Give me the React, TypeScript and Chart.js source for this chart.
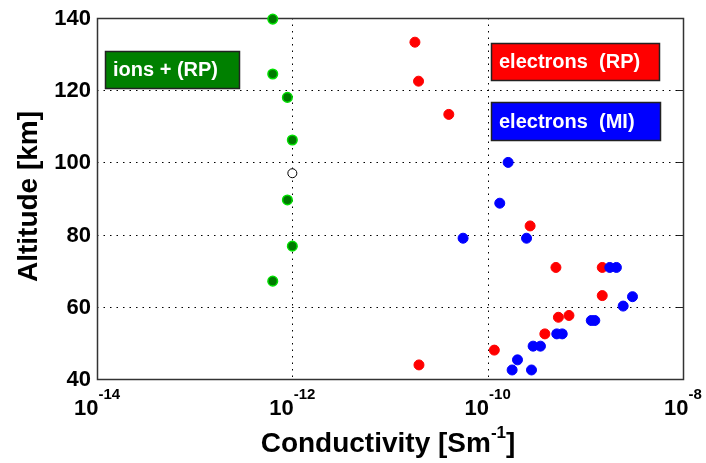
import React, { useEffect, useRef } from "react";
import { Chart, registerables } from "chart.js";

Chart.register(...registerables);

// ---- data ----
const ionsX = [6.3e-13, 6.3e-13, 8.9e-13, 1.0e-12, 8.9e-13, 1.0e-12, 6.3e-13];
const ionsY = [139.7, 124.5, 118.0, 106.2, 89.6, 76.8, 67.1];

const hollowX = [1.0e-12];
const hollowY = [97.0];

const elRPX = [1.8e-11, 1.96e-11, 4.0e-11, 2.72e-10, 5.0e-10, 1.49e-9, 1.49e-9, 5.3e-10, 6.8e-10, 3.85e-10, 1.17e-10, 1.98e-11];
const elRPY = [133.3, 122.5, 113.3, 82.4, 70.9, 70.9, 63.1, 57.1, 57.6, 52.5, 48.0, 43.9];

const elMIX = [1.62e-10, 1.33e-10, 5.6e-11, 2.5e-10, 1.78e-9, 2.08e-9, 3.04e-9, 2.44e-9, 1.15e-9, 1.25e-9, 5.1e-10, 5.8e-10, 2.92e-10, 3.47e-10, 2.02e-10, 1.78e-10, 2.81e-10];
const elMIY = [100.0, 88.7, 79.0, 79.0, 70.9, 70.9, 62.8, 60.2, 56.2, 56.2, 52.5, 52.5, 49.1, 49.1, 45.3, 42.5, 42.5];

const xTickExps = [-14, -12, -10, -8];
const yTicks = [40, 60, 80, 100, 120, 140];

const xTitle = "Conductivity [Sm";
const xTitleSup = "-1";
const yTitle = "Altitude [km]";

const labelIons = "ions + (RP)";
const labelRP = "electrons  (RP)";
const labelMI = "electrons  (MI)";

const FONT = '"Liberation Sans", Arial, Helvetica, sans-serif';

const toPts = (xs: number[], ys: number[]) => xs.map((x, i) => ({ x, y: ys[i] }));

const decorPlugin = {
  id: "decor",
  beforeDatasetsDraw(chart: any) {
    const { ctx, chartArea: a, scales } = chart;
    const xs = scales.x;
    const ys = scales.y;
    ctx.save();
    // dotted grid
    ctx.strokeStyle = "#000";
    ctx.lineWidth = 1;
    ctx.setLineDash([1.5, 5]);
    xTickExps.forEach((e) => {
      const v = Math.pow(10, e);
      const px = Math.round(xs.getPixelForValue(v)) + 0.5;
      if (px <= a.left + 2 || px >= a.right - 2) return;
      ctx.beginPath();
      ctx.moveTo(px, a.top);
      ctx.lineTo(px, a.bottom);
      ctx.stroke();
    });
    yTicks.forEach((v) => {
      const py = Math.round(ys.getPixelForValue(v)) + 0.5;
      if (py <= a.top + 2 || py >= a.bottom - 2) return;
      ctx.beginPath();
      ctx.moveTo(a.left, py);
      ctx.lineTo(a.right, py);
      ctx.stroke();
    });
    ctx.setLineDash([]);
    // right tick marks
    ctx.strokeStyle = "#222";
    yTicks.forEach((v) => {
      const py = Math.round(ys.getPixelForValue(v)) + 0.5;
      ctx.beginPath();
      ctx.moveTo(a.right - 6, py);
      ctx.lineTo(a.right, py);
      ctx.stroke();
    });
    // frame
    ctx.strokeStyle = "#333";
    ctx.lineWidth = 1.5;
    ctx.strokeRect(Math.round(a.left) + 0.5, Math.round(a.top) + 0.5, Math.round(a.right - a.left), Math.round(a.bottom - a.top));

    // y tick labels
    ctx.fillStyle = "#000";
    ctx.font = `bold 22px ${FONT}`;
    ctx.textAlign = "right";
    ctx.textBaseline = "middle";
    yTicks.forEach((v) => {
      const py = ys.getPixelForValue(v);
      ctx.fillText(String(v), a.left - 6, py + 1);
    });
    // x tick labels with superscript
    xTickExps.forEach((e) => {
      const px = xs.getPixelForValue(Math.pow(10, e));
      ctx.font = `bold 22px ${FONT}`;
      const base = "10";
      const wb = ctx.measureText(base).width;
      ctx.font = `bold 15px ${FONT}`;
      const sup = String(e);
      const ws = ctx.measureText(sup).width;
      const start = px - (wb + ws) / 2;
      ctx.textAlign = "left";
      ctx.textBaseline = "alphabetic";
      ctx.font = `bold 22px ${FONT}`;
      ctx.fillText(base, start, a.bottom + 36);
      ctx.font = `bold 15px ${FONT}`;
      ctx.fillText(sup, start + wb, a.bottom + 20);
    });
    // x title
    ctx.font = `bold 28px ${FONT}`;
    const wt = ctx.measureText(xTitle).width;
    ctx.font = `bold 17px ${FONT}`;
    const wsup = ctx.measureText(xTitleSup).width;
    ctx.font = `bold 28px ${FONT}`;
    const wbr = ctx.measureText("]").width;
    const cx = (a.left + a.right) / 2 - 2;
    let sx = cx - (wt + wsup + wbr) / 2;
    ctx.textAlign = "left";
    ctx.textBaseline = "alphabetic";
    ctx.fillText(xTitle, sx, a.bottom + 73);
    ctx.font = `bold 17px ${FONT}`;
    ctx.fillText(xTitleSup, sx + wt, a.bottom + 59);
    ctx.font = `bold 28px ${FONT}`;
    ctx.fillText("]", sx + wt + wsup, a.bottom + 73);
    // y title
    ctx.save();
    ctx.translate(29, (a.top + a.bottom) / 2 - 2);
    ctx.rotate(-Math.PI / 2);
    ctx.textAlign = "center";
    ctx.textBaseline = "middle";
    ctx.font = `bold 28px ${FONT}`;
    ctx.fillText(yTitle, 0, 0);
    ctx.restore();
    ctx.restore();
  },
  afterDraw(chart: any) {
    const { ctx, chartArea: a } = chart;
    const boxes = [
      { text: labelIons, fill: "#008000", x: a.left + 8, y: a.top + 33, w: 134, h: 37 },
      { text: labelRP, fill: "#ff0000", x: a.left + 394, y: a.top + 25, w: 168, h: 37 },
      { text: labelMI, fill: "#0000ff", x: a.left + 394, y: a.top + 84, w: 169, h: 38 },
    ];
    ctx.save();
    boxes.forEach((b) => {
      ctx.fillStyle = b.fill;
      ctx.fillRect(b.x, b.y, b.w, b.h);
      ctx.strokeStyle = "#222";
      ctx.lineWidth = 1.5;
      ctx.strokeRect(b.x + 0.5, b.y + 0.5, b.w, b.h);
      ctx.fillStyle = "#fff";
      ctx.font = `bold 20px ${FONT}`;
      ctx.textAlign = "left";
      ctx.textBaseline = "middle";
      ctx.fillText(b.text, b.x + 8, b.y + b.h / 2 + 1);
    });
    ctx.restore();
  },
};

export default function App() {
  const ref = useRef<HTMLCanvasElement | null>(null);
  useEffect(() => {
    if (!ref.current) return;
    const chart = new Chart(ref.current, {
      type: "scatter",
      data: {
        datasets: [
          {
            label: labelMI,
            data: toPts(elMIX, elMIY),
            backgroundColor: "#0000ff",
            borderColor: "#0000ff",
            borderWidth: 1,
            pointRadius: 5,
            order: 0,
            clip: false,
          },
          {
            label: labelRP,
            data: toPts(elRPX, elRPY),
            backgroundColor: "#ff0000",
            borderColor: "#ff0000",
            borderWidth: 1,
            pointRadius: 5,
            order: 1,
            clip: false,
          },
          {
            label: "hollow",
            data: toPts(hollowX, hollowY),
            backgroundColor: "#ffffff",
            borderColor: "#000000",
            borderWidth: 1,
            pointRadius: 4.5,
            order: 2,
            clip: false,
          },
          {
            label: labelIons,
            data: toPts(ionsX, ionsY),
            backgroundColor: "#007a00",
            borderColor: "#00e000",
            borderWidth: 1.5,
            pointRadius: 4.8,
            order: 3,
            clip: false,
          },
        ] as any,
      },
      options: {
        animation: false,
        responsive: false,
        maintainAspectRatio: false,
        devicePixelRatio: 1,
        layout: { padding: { left: 97, right: 23, top: 18, bottom: 84 } },
        plugins: { legend: { display: false }, tooltip: { enabled: false } },
        scales: {
          x: { type: "logarithmic", min: 1e-14, max: 1e-8, display: false },
          y: { type: "linear", min: 40, max: 140, display: false },
        },
      } as any,
      plugins: [decorPlugin],
    });
    return () => chart.destroy();
  }, []);
  return (
    <div style={{ position: "fixed", left: 0, top: 0, width: 706, height: 463, background: "#fff" }}>
      <canvas ref={ref} width={706} height={463} style={{ display: "block", width: 706, height: 463 }} />
    </div>
  );
}
